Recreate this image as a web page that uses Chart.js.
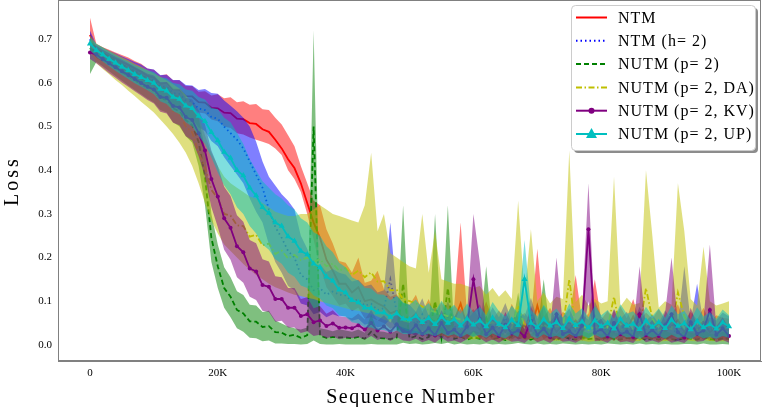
<!DOCTYPE html>
<html>
<head>
<meta charset="utf-8">
<script src="https://cdn.jsdelivr.net/npm/chart.js@4"></script>
<style>
  html, body { margin: 0; padding: 0; background: #fff; }
  #wrap { width: 762px; height: 407px; }
</style>
</head>
<body>
<div id="wrap"><canvas id="lossChart"></canvas></div>
<script>
// loss curves sampled every 1K sequences (0 .. 100K)
var STEP = 1000;
var xTicks = [0, 20000, 40000, 60000, 80000, 100000];
var yTicks = [0.0, 0.1, 0.2, 0.3, 0.4, 0.5, 0.6, 0.7];
var names = ['NTM', 'NTM (h= 2)', 'NUTM (p= 2)', 'NUTM (p= 2, DA)', 'NUTM (p= 2, KV)', 'NUTM (p= 2, UP)'];

var ntmMean = [0.71,0.676,0.668,0.661,0.655,0.648,0.641,0.633,0.626,0.616,
  0.612,0.598,0.6,0.585,0.584,0.57,0.569,0.556,0.555,0.543,
  0.542,0.532,0.531,0.518,0.517,0.508,0.506,0.494,0.488,0.47,
  0.45,0.425,0.405,0.37,0.325,0.28,0.245,0.195,0.17,0.14,
  0.14,0.12,0.132,0.1,0.104,0.095,0.088,0.072,0.078,0.06,
  0.058,0.072,0.045,0.066,0.04,0.061,0.038,0.055,0.095,0.042,
  0.05,0.035,0.062,0.033,0.048,0.03,0.058,0.036,0.044,0.032,
  0.09,0.037,0.052,0.03,0.046,0.034,0.056,0.031,0.043,0.06,
  0.033,0.047,0.029,0.054,0.035,0.065,0.03,0.045,0.034,0.05,
  0.031,0.042,0.057,0.03,0.046,0.033,0.052,0.029,0.041,0.036,
  0.034];
var ntmLo = [0.69,0.662,0.654,0.646,0.64,0.633,0.625,0.617,0.609,0.6,
  0.593,0.58,0.58,0.565,0.563,0.548,0.546,0.532,0.53,0.516,
  0.512,0.5,0.497,0.485,0.482,0.475,0.47,0.465,0.46,0.45,
  0.435,0.4,0.38,0.35,0.3,0.24,0.18,0.132,0.112,0.09,
  0.094,0.077,0.085,0.06,0.063,0.056,0.05,0.037,0.042,0.028,
  0.028,0.035,0.018,0.03,0.015,0.027,0.014,0.024,0.04,0.016,
  0.02,0.012,0.027,0.011,0.019,0.01,0.024,0.012,0.017,0.01,
  0.035,0.013,0.021,0.01,0.018,0.011,0.023,0.01,0.016,0.025,
  0.011,0.018,0.009,0.022,0.012,0.026,0.01,0.017,0.012,0.02,
  0.01,0.016,0.023,0.01,0.018,0.011,0.021,0.009,0.015,0.012,
  0.011];
var ntmHi = [0.75,0.69,0.682,0.676,0.67,0.664,0.658,0.65,0.644,0.633,
  0.63,0.617,0.62,0.606,0.606,0.593,0.593,0.58,0.581,0.571,
  0.574,0.565,0.567,0.556,0.558,0.55,0.552,0.54,0.538,0.52,
  0.505,0.48,0.455,0.41,0.37,0.33,0.32,0.265,0.232,0.192,
  0.188,0.166,0.2,0.142,0.147,0.17,0.128,0.11,0.116,0.094,
  0.092,0.115,0.075,0.105,0.068,0.098,0.064,0.09,0.28,0.07,
  0.082,0.06,0.1,0.058,0.079,0.054,0.094,0.062,0.073,0.056,
  0.22,0.063,0.085,0.055,0.076,0.06,0.16,0.057,0.072,0.15,
  0.058,0.078,0.052,0.088,0.061,0.105,0.054,0.074,0.06,0.082,
  0.056,0.07,0.093,0.054,0.076,0.058,0.085,0.052,0.068,0.062,
  0.06];

var ntmH2Mean = [0.70,0.672,0.665,0.657,0.65,0.642,0.635,0.627,0.62,0.61,
  0.606,0.592,0.591,0.577,0.575,0.56,0.556,0.541,0.538,0.522,
  0.518,0.5,0.485,0.47,0.45,0.42,0.39,0.36,0.31,0.27,
  0.245,0.215,0.2,0.16,0.15,0.125,0.13,0.115,0.122,0.115,
  0.113,0.1,0.104,0.09,0.094,0.08,0.084,0.15,0.075,0.062,
  0.06,0.048,0.07,0.041,0.058,0.037,0.065,0.04,0.052,0.035,
  0.047,0.06,0.034,0.055,0.039,0.062,0.033,0.05,0.041,0.07,
  0.036,0.058,0.032,0.046,0.038,0.054,0.03,0.044,0.035,0.066,
  0.04,0.031,0.052,0.036,0.048,0.029,0.057,0.034,0.043,0.03,
  0.05,0.035,0.028,0.045,0.033,0.06,0.031,0.039,0.034,0.047,
  0.04];
var ntmH2Lo = [0.685,0.657,0.649,0.64,0.632,0.623,0.615,0.606,0.598,0.587,
  0.581,0.566,0.563,0.547,0.543,0.525,0.518,0.498,0.49,0.467,
  0.455,0.43,0.41,0.39,0.37,0.335,0.305,0.28,0.23,0.19,
  0.165,0.135,0.125,0.095,0.09,0.07,0.075,0.063,0.07,0.065,
  0.065,0.055,0.059,0.046,0.05,0.04,0.043,0.06,0.037,0.028,
  0.028,0.02,0.033,0.016,0.026,0.014,0.03,0.015,0.022,0.013,
  0.019,0.027,0.012,0.024,0.015,0.028,0.012,0.021,0.016,0.032,
  0.013,0.025,0.011,0.019,0.014,0.023,0.01,0.018,0.013,0.03,
  0.015,0.011,0.022,0.013,0.02,0.01,0.025,0.012,0.017,0.01,
  0.021,0.013,0.009,0.018,0.012,0.027,0.011,0.015,0.012,0.019,
  0.015];
var ntmH2Hi = [0.72,0.688,0.681,0.674,0.668,0.661,0.655,0.648,0.642,0.633,
  0.631,0.618,0.619,0.607,0.607,0.595,0.594,0.584,0.586,0.577,
  0.575,0.56,0.548,0.535,0.52,0.5,0.465,0.42,0.385,0.365,
  0.345,0.33,0.31,0.25,0.22,0.18,0.185,0.167,0.174,0.165,
  0.161,0.145,0.149,0.134,0.138,0.12,0.125,0.28,0.113,0.096,
  0.092,0.076,0.107,0.066,0.09,0.06,0.1,0.065,0.082,0.057,
  0.075,0.093,0.056,0.086,0.063,0.096,0.054,0.078,0.066,0.108,
  0.059,0.09,0.052,0.073,0.062,0.084,0.05,0.07,0.057,0.1,
  0.065,0.051,0.082,0.059,0.076,0.048,0.088,0.055,0.069,0.05,
  0.079,0.057,0.047,0.18,0.054,0.14,0.051,0.063,0.056,0.074,
  0.065];

var nutmMean = [0.68,0.665,0.655,0.645,0.635,0.625,0.615,0.606,0.597,0.588,
  0.58,0.565,0.561,0.542,0.535,0.515,0.503,0.465,0.385,0.245,
  0.18,0.13,0.11,0.08,0.072,0.054,0.053,0.041,0.043,0.029,
  0.028,0.02,0.023,0.016,0.022,0.5,0.021,0.016,0.018,0.017,
  0.017,0.015,0.018,0.014,0.03,0.016,0.015,0.013,0.017,0.14,
  0.015,0.02,0.013,0.018,0.1,0.016,0.13,0.014,0.019,0.012,
  0.017,0.014,0.06,0.013,0.016,0.011,0.019,0.05,0.015,0.012,
  0.018,0.05,0.016,0.011,0.02,0.014,0.012,0.017,0.013,0.015,
  0.011,0.019,0.014,0.012,0.016,0.013,0.018,0.011,0.015,0.012,
  0.017,0.013,0.011,0.016,0.014,0.012,0.018,0.013,0.011,0.015,
  0.013];
var nutmLo = [0.62,0.648,0.638,0.627,0.616,0.605,0.594,0.584,0.574,0.564,
  0.555,0.538,0.532,0.51,0.5,0.478,0.463,0.41,0.32,0.19,
  0.13,0.085,0.063,0.038,0.03,0.016,0.015,0.008,0.01,0.003,
  0.003,0.002,0.002,0.001,0.002,0.01,0.002,0.001,0.001,0.002,
  0.001,0.001,0.001,0.001,0.002,0.001,0.001,0.001,0.001,0.005,
  0.002,0.003,0.001,0.002,0.004,0.002,0.005,0.001,0.003,0.001,
  0.002,0.001,0.003,0.001,0.002,0.001,0.002,0.004,0.002,0.001,
  0.003,0.001,0.002,0.001,0.003,0.002,0.001,0.002,0.001,0.002,
  0.001,0.003,0.002,0.001,0.002,0.001,0.003,0.001,0.002,0.001,
  0.002,0.001,0.001,0.002,0.002,0.001,0.003,0.001,0.001,0.002,
  0.001];
var nutmHi = [0.70,0.682,0.672,0.663,0.654,0.645,0.636,0.628,0.62,0.612,
  0.605,0.592,0.59,0.574,0.57,0.552,0.543,0.52,0.45,0.3,
  0.23,0.178,0.155,0.123,0.114,0.092,0.09,0.075,0.078,0.056,
  0.049,0.042,0.038,0.035,0.04,0.72,0.038,0.035,0.031,0.036,
  0.033,0.03,0.035,0.028,0.07,0.031,0.03,0.026,0.033,0.32,
  0.03,0.038,0.026,0.035,0.3,0.031,0.32,0.028,0.037,0.025,
  0.033,0.028,0.18,0.026,0.031,0.023,0.037,0.12,0.03,0.025,
  0.035,0.15,0.031,0.023,0.039,0.028,0.025,0.033,0.026,0.03,
  0.023,0.037,0.028,0.025,0.031,0.026,0.035,0.023,0.03,0.025,
  0.033,0.026,0.023,0.031,0.028,0.025,0.035,0.026,0.023,0.03,
  0.026];

var nutmDaMean = [0.69,0.668,0.657,0.647,0.637,0.627,0.617,0.607,0.597,0.587,
  0.58,0.562,0.557,0.536,0.53,0.5,0.487,0.44,0.407,0.355,
  0.336,0.3,0.296,0.274,0.272,0.248,0.252,0.228,0.232,0.208,
  0.216,0.198,0.206,0.194,0.2,0.19,0.196,0.18,0.186,0.17,
  0.176,0.16,0.17,0.155,0.166,0.145,0.146,0.125,0.126,0.105,
  0.1,0.095,0.088,0.08,0.075,0.07,0.066,0.062,0.058,0.055,
  0.05,0.056,0.045,0.052,0.041,0.048,0.039,0.09,0.044,0.06,
  0.038,0.047,0.036,0.043,0.04,0.15,0.037,0.045,0.034,0.041,
  0.036,0.04,0.11,0.033,0.042,0.035,0.039,0.13,0.06,0.032,
  0.04,0.036,0.12,0.065,0.041,0.035,0.058,0.039,0.035,0.037,
  0.04];
var nutmDaLo = [0.675,0.645,0.632,0.62,0.607,0.595,0.582,0.57,0.557,0.545,
  0.532,0.516,0.5,0.483,0.463,0.44,0.41,0.37,0.325,0.285,
  0.255,0.23,0.215,0.2,0.185,0.172,0.16,0.15,0.14,0.132,
  0.126,0.12,0.115,0.112,0.108,0.105,0.1,0.096,0.092,0.088,
  0.084,0.08,0.078,0.074,0.071,0.065,0.058,0.052,0.046,0.04,
  0.035,0.032,0.028,0.025,0.022,0.02,0.018,0.016,0.015,0.013,
  0.012,0.014,0.01,0.013,0.009,0.011,0.008,0.02,0.01,0.014,
  0.008,0.011,0.008,0.01,0.009,0.02,0.008,0.01,0.007,0.009,
  0.008,0.009,0.015,0.007,0.01,0.008,0.009,0.015,0.012,0.007,
  0.009,0.008,0.015,0.012,0.009,0.008,0.011,0.009,0.008,0.008,
  0.009];
var nutmDaHi = [0.71,0.69,0.682,0.674,0.667,0.659,0.652,0.644,0.637,0.629,
  0.622,0.614,0.606,0.597,0.587,0.572,0.553,0.525,0.48,0.44,
  0.41,0.385,0.37,0.36,0.35,0.34,0.335,0.325,0.315,0.305,
  0.3,0.295,0.295,0.3,0.3,0.31,0.32,0.31,0.3,0.295,
  0.29,0.285,0.28,0.32,0.44,0.26,0.3,0.21,0.2,0.19,
  0.18,0.175,0.3,0.165,0.26,0.15,0.145,0.14,0.14,0.135,
  0.13,0.135,0.115,0.13,0.11,0.125,0.105,0.33,0.115,0.265,
  0.1,0.12,0.095,0.11,0.105,0.445,0.098,0.115,0.09,0.105,
  0.095,0.1,0.385,0.088,0.108,0.092,0.096,0.4,0.25,0.085,
  0.1,0.092,0.37,0.26,0.105,0.09,0.225,0.1,0.09,0.095,
  0.1];

var nutmKvMean = [0.67,0.665,0.655,0.645,0.636,0.627,0.618,0.609,0.6,0.591,
  0.585,0.568,0.566,0.547,0.544,0.522,0.515,0.485,0.445,0.38,
  0.34,0.29,0.268,0.226,0.212,0.175,0.168,0.137,0.133,0.105,
  0.105,0.085,0.085,0.066,0.07,0.052,0.056,0.043,0.049,0.039,
  0.04,0.038,0.045,0.035,0.05,0.033,0.042,0.03,0.047,0.032,
  0.028,0.045,0.025,0.038,0.022,0.05,0.027,0.035,0.021,0.042,
  0.15,0.06,0.024,0.04,0.02,0.046,0.026,0.033,0.019,0.055,
  0.023,0.037,0.018,0.07,0.025,0.031,0.02,0.044,0.265,0.028,
  0.036,0.019,0.05,0.024,0.03,0.018,0.07,0.022,0.034,0.02,
  0.045,0.07,0.029,0.017,0.052,0.025,0.033,0.08,0.023,0.038,
  0.02];
var nutmKvLo = [0.655,0.645,0.634,0.622,0.612,0.601,0.591,0.581,0.571,0.561,
  0.553,0.534,0.53,0.509,0.503,0.478,0.468,0.432,0.385,0.315,
  0.27,0.218,0.195,0.155,0.142,0.11,0.103,0.078,0.075,0.053,
  0.055,0.04,0.04,0.027,0.031,0.02,0.023,0.015,0.019,0.013,
  0.016,0.015,0.018,0.012,0.02,0.011,0.016,0.009,0.018,0.01,
  0.008,0.014,0.006,0.011,0.005,0.016,0.007,0.01,0.005,0.013,
  0.03,0.015,0.006,0.012,0.005,0.014,0.007,0.009,0.004,0.017,
  0.006,0.011,0.004,0.015,0.007,0.009,0.005,0.013,0.1,0.008,
  0.01,0.005,0.016,0.006,0.008,0.004,0.019,0.006,0.01,0.005,
  0.014,0.005,0.008,0.004,0.017,0.007,0.009,0.02,0.006,0.011,
  0.005];
var nutmKvHi = [0.69,0.685,0.676,0.668,0.66,0.653,0.645,0.637,0.629,0.621,
  0.617,0.602,0.602,0.585,0.585,0.566,0.562,0.538,0.505,0.445,
  0.41,0.362,0.341,0.297,0.282,0.24,0.233,0.196,0.191,0.157,
  0.155,0.13,0.13,0.105,0.109,0.084,0.089,0.071,0.079,0.065,
  0.064,0.061,0.072,0.058,0.08,0.055,0.068,0.051,0.076,0.054,
  0.05,0.073,0.045,0.064,0.041,0.08,0.048,0.059,0.039,0.07,
  0.3,0.19,0.044,0.066,0.038,0.075,0.047,0.056,0.036,0.09,
  0.042,0.062,0.034,0.2,0.045,0.053,0.037,0.072,0.37,0.05,
  0.06,0.036,0.081,0.044,0.052,0.034,0.18,0.041,0.057,0.037,
  0.074,0.2,0.05,0.033,0.085,0.045,0.056,0.23,0.042,0.063,
  0.038];

var nutmUpMean = [0.69,0.675,0.665,0.655,0.646,0.637,0.629,0.62,0.613,0.606,
  0.6,0.586,0.582,0.568,0.563,0.548,0.542,0.524,0.512,0.487,
  0.468,0.442,0.428,0.4,0.388,0.36,0.342,0.315,0.302,0.28,
  0.272,0.248,0.238,0.215,0.207,0.186,0.177,0.156,0.147,0.126,
  0.12,0.102,0.097,0.085,0.084,0.074,0.074,0.064,0.072,0.06,
  0.058,0.066,0.052,0.061,0.047,0.064,0.05,0.058,0.044,0.06,
  0.046,0.055,0.042,0.062,0.048,0.04,0.057,0.045,0.15,0.05,
  0.04,0.058,0.044,0.052,0.038,0.06,0.045,0.053,0.039,0.056,
  0.042,0.05,0.037,0.059,0.044,0.048,0.036,0.055,0.041,0.052,
  0.038,0.057,0.043,0.049,0.035,0.054,0.04,0.047,0.037,0.051,
  0.042];
var nutmUpLo = [0.675,0.66,0.649,0.638,0.628,0.618,0.609,0.599,0.591,0.583,
  0.574,0.558,0.552,0.536,0.528,0.51,0.5,0.478,0.46,0.43,
  0.395,0.365,0.345,0.315,0.3,0.272,0.255,0.23,0.218,0.196,
  0.186,0.165,0.156,0.136,0.13,0.113,0.106,0.09,0.084,0.068,
  0.064,0.052,0.049,0.04,0.04,0.034,0.034,0.028,0.033,0.025,
  0.024,0.028,0.021,0.026,0.019,0.027,0.02,0.024,0.017,0.025,
  0.018,0.023,0.016,0.026,0.019,0.015,0.024,0.018,0.06,0.02,
  0.015,0.024,0.017,0.021,0.014,0.025,0.018,0.022,0.015,0.023,
  0.016,0.02,0.014,0.024,0.017,0.019,0.013,0.022,0.016,0.021,
  0.014,0.023,0.016,0.019,0.013,0.022,0.015,0.018,0.014,0.02,
  0.016];
var nutmUpHi = [0.705,0.69,0.681,0.672,0.664,0.656,0.649,0.641,0.635,0.629,
  0.625,0.613,0.611,0.6,0.597,0.585,0.582,0.568,0.562,0.543,
  0.54,0.52,0.51,0.486,0.46,0.425,0.4,0.375,0.36,0.345,
  0.335,0.32,0.31,0.29,0.28,0.258,0.25,0.226,0.212,0.188,
  0.178,0.155,0.147,0.131,0.129,0.116,0.115,0.102,0.112,0.097,
  0.092,0.104,0.083,0.096,0.075,0.101,0.08,0.092,0.071,0.095,
  0.074,0.087,0.068,0.098,0.077,0.065,0.09,0.072,0.24,0.08,
  0.065,0.092,0.071,0.083,0.062,0.095,0.072,0.084,0.063,0.089,
  0.068,0.08,0.06,0.093,0.071,0.077,0.059,0.087,0.066,0.083,
  0.062,0.09,0.07,0.078,0.057,0.086,0.065,0.075,0.06,0.081,
  0.068];

var series = [
  { mean: ntmMean,    lo: ntmLo,    hi: ntmHi,    color: [255, 0, 0],   dash: [],                 marker: false },
  { mean: ntmH2Mean,  lo: ntmH2Lo,  hi: ntmH2Hi,  color: [0, 0, 255],   dash: [1.5, 3],           marker: false },
  { mean: nutmMean,   lo: nutmLo,   hi: nutmHi,   color: [0, 128, 0],   dash: [5, 3],             marker: false },
  { mean: nutmDaMean, lo: nutmDaLo, hi: nutmDaHi, color: [191, 191, 0], dash: [6, 2.5, 1.5, 2.5], marker: false },
  { mean: nutmKvMean, lo: nutmKvLo, hi: nutmKvHi, color: [128, 0, 128], dash: [],                 marker: 'circle' },
  { mean: nutmUpMean, lo: nutmUpLo, hi: nutmUpHi, color: [0, 191, 191], dash: [],                 marker: 'triangle' }
];

function rgba(c, a) { return 'rgba(' + c[0] + ',' + c[1] + ',' + c[2] + ',' + a + ')'; }
function pts(arr) { return arr.map(function (v, i) { return { x: i * STEP, y: v }; }); }

var datasets = [];
series.forEach(function (s, k) {
  datasets.push({ label: names[k] + ' lo', data: pts(s.lo), borderWidth: 0, pointRadius: 0, fill: false });
  datasets.push({ label: names[k] + ' hi', data: pts(s.hi), borderWidth: 0, pointRadius: 0,
    fill: '-1', backgroundColor: rgba(s.color, 0.5) });
  datasets.push({ label: names[k], data: pts(s.mean), borderColor: rgba(s.color, 1), borderWidth: 1.8,
    borderDash: s.dash, fill: false,
    pointStyle: s.marker || 'circle', pointRadius: s.marker === 'triangle' ? 3.5 : (s.marker ? 2 : 0),
    pointBackgroundColor: rgba(s.color, 1), pointBorderWidth: 0 });
});
// later series drawn on top
datasets.forEach(function (d, i) { d.order = 1000 - i; d.tension = 0; });

var frameAndLegend = {
  id: 'frameAndLegend',
  afterDraw: function (chart) {
    var ctx = chart.ctx, a = chart.chartArea;
    ctx.save();
    ctx.strokeStyle = '#808080';
    ctx.lineWidth = 1;
    ctx.strokeRect(a.left + 0.5, a.top + 0.5, a.right - a.left - 1, a.bottom - a.top - 1);

    // axis titles
    ctx.fillStyle = '#000';
    ctx.font = '20px "Liberation Serif"';
    ctx.letterSpacing = '1.5px';
    ctx.textAlign = 'center';
    ctx.textBaseline = 'alphabetic';
    ctx.fillText('Sequence Number', 411, 403);
    ctx.save();
    ctx.translate(18, 181);
    ctx.rotate(-Math.PI / 2);
    ctx.letterSpacing = '3px';
    ctx.fillText('Loss', 0, 0);
    ctx.restore();

    // legend box
    var bx = 571, by = 5, bw = 184, bh = 145;
    ctx.fillStyle = 'rgba(0,0,0,0.45)';
    ctx.beginPath(); ctx.roundRect(bx + 3, by + 3, bw, bh, 4); ctx.fill();
    ctx.fillStyle = '#fff';
    ctx.strokeStyle = '#cccccc';
    ctx.beginPath(); ctx.roundRect(bx + 0.5, by + 0.5, bw, bh, 4); ctx.fill(); ctx.stroke();

    ctx.font = '16px "Liberation Serif"';
    ctx.letterSpacing = '1px';
    ctx.textAlign = 'left';
    ctx.textBaseline = 'middle';
    series.forEach(function (s, k) {
      var y = 17.5 + k * 23.3;
      ctx.strokeStyle = rgba(s.color, 1);
      ctx.lineWidth = 2;
      ctx.setLineDash(s.dash);
      ctx.beginPath(); ctx.moveTo(576, y); ctx.lineTo(607, y); ctx.stroke();
      ctx.setLineDash([]);
      ctx.fillStyle = rgba(s.color, 1);
      if (s.marker === 'circle') {
        ctx.beginPath(); ctx.arc(591.5, y, 3, 0, Math.PI * 2); ctx.fill();
      } else if (s.marker === 'triangle') {
        ctx.beginPath(); ctx.moveTo(591.5, y - 6); ctx.lineTo(597, y + 4); ctx.lineTo(586, y + 4); ctx.closePath(); ctx.fill();
      }
      ctx.fillStyle = '#000';
      ctx.fillText(names[k], 618, y + 1);
    });
    ctx.restore();
  }
};

new Chart(document.getElementById('lossChart'), {
  type: 'line',
  data: { datasets: datasets },
  plugins: [frameAndLegend],
  options: {
    responsive: true,
    maintainAspectRatio: false,
    animation: false,
    events: [],
    layout: { autoPadding: false, padding: { top: 0, right: 1, left: 0, bottom: 0 } },
    plugins: { legend: { display: false }, tooltip: { enabled: false } },
    scales: {
      x: {
        type: 'linear', min: -5000, max: 105000,
        grid: { display: false, drawTicks: false },
        border: { display: true, color: '#808080' },
        afterBuildTicks: function (axis) { axis.ticks = xTicks.map(function (v) { return { value: v }; }); },
        afterFit: function (scale) { scale.height = 46; scale.paddingLeft = 0; scale.paddingRight = 0; },
        ticks: {
          padding: 6, color: '#000', maxRotation: 0,
          font: { family: 'Liberation Serif', size: 11 },
          callback: function (v) { return v === 0 ? '0' : (v / 1000) + 'K'; }
        }
      },
      y: {
        type: 'linear', min: -0.037, max: 0.79,
        grid: { display: false, drawTicks: false },
        border: { display: true, color: '#808080' },
        afterBuildTicks: function (axis) { axis.ticks = yTicks.map(function (v) { return { value: v }; }); },
        afterFit: function (scale) { scale.width = 58; scale.paddingTop = 0; scale.paddingBottom = 0; },
        ticks: {
          padding: 6, color: '#000',
          font: { family: 'Liberation Serif', size: 11 },
          callback: function (v) { return v.toFixed(1); }
        }
      }
    }
  }
});
</script>
</body>
</html>
